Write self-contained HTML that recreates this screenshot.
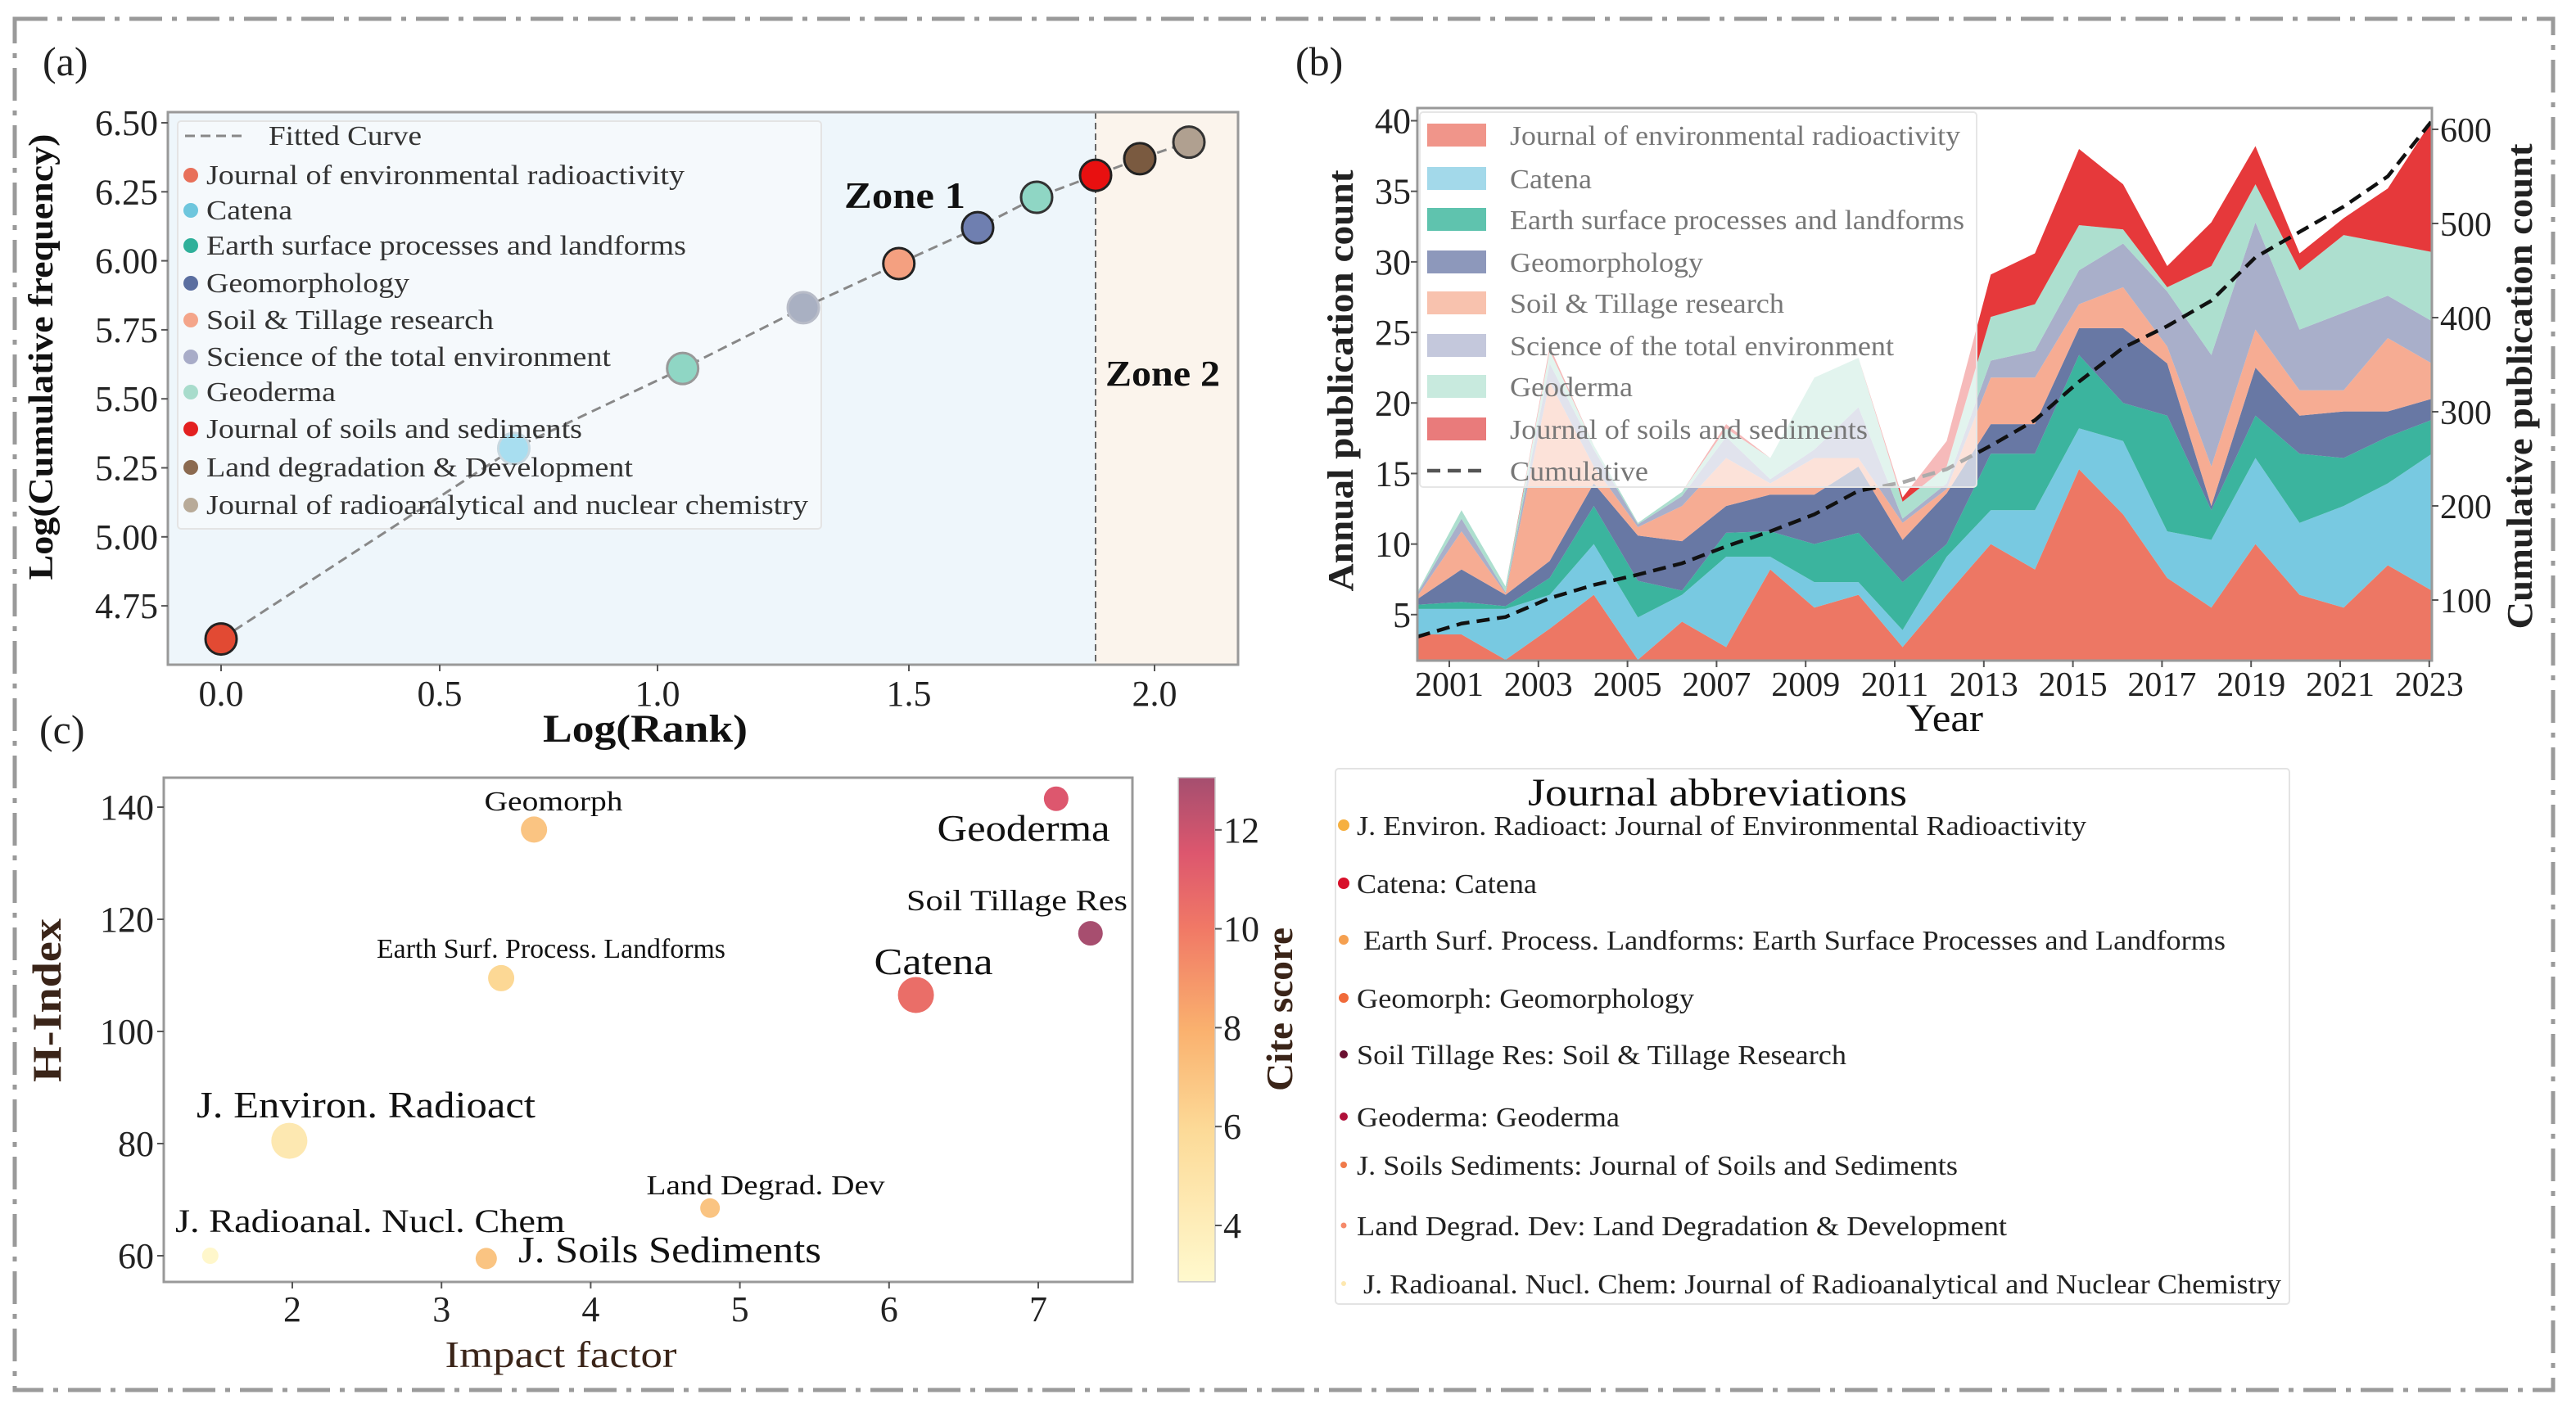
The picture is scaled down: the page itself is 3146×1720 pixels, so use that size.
<!DOCTYPE html>
<html><head><meta charset="utf-8"><style>
html,body{margin:0;padding:0;background:#fff;}
svg{display:block;font-family:"Liberation Serif","Times New Roman",Times,serif;}
svg text{font-family:"Liberation Serif","Times New Roman",Times,serif;}
</style></head><body>
<svg id="fig" width="3146" height="1720" viewBox="0 0 3146 1720" xmlns="http://www.w3.org/2000/svg" font-family="Liberation Serif, serif">
<rect x="18" y="23" width="3100" height="1675" fill="none" stroke="#9a9a9a" stroke-width="5" stroke-dasharray="40,12,6,12"/>
<g id="pa"></g>
<g id="pb"></g>
<g id="pc"></g>
<g id="pd"></g>
</svg>
<script>
// ---------- Panel (a) data ----------
const aNames=["Journal of environmental radioactivity","Catena","Earth surface processes and landforms","Geomorphology","Soil & Tillage research","Science of the total environment","Geoderma","Journal of soils and sediments","Land degradation & Development","Journal of radioanalytical and nuclear chemistry"];
const aLogRank=[0,0.67,1.05,1.29,1.48,1.64,1.76,1.88,1.97,2.07];
const aLogFreq=[4.63,5.32,5.61,5.83,5.99,6.12,6.23,6.31,6.37,6.43];
const aXTicks=[0,0.5,1.0,1.5,2.0];
const aYTicks=[4.75,5.00,5.25,5.50,5.75,6.00,6.25,6.50];
const aZoneSplit=1.88;
// ---------- Panel (b) data ----------
const bYears=[2000,2001,2002,2003,2004,2005,2006,2007,2008,2009,2010,2011,2012,2013,2014,2015,2016,2017,2018,2019,2020,2021,2022,2023];
const bNames=["Journal of environmental radioactivity","Catena","Earth surface processes and landforms","Geomorphology","Soil & Tillage research","Science of the total environment","Geoderma","Journal of soils and sediments"];
const sJER=[3.6,3.6,1.8,4.0,6.4,1.8,4.5,2.7,8.2,5.5,6.4,2.7,6.4,10,8.2,15.3,12.1,7.6,5.5,10,6.4,5.5,8.5,6.7];
const sCatena=[1.8,1.8,3.6,2.4,3.6,3.0,1.9,6.4,0.9,1.8,0.9,1.2,2.7,2.4,4.2,2.9,5.2,3.3,4.8,6.1,5.1,7.2,5.8,9.7];
const sESPL=[0.3,0.5,0.2,1.2,2.7,2.6,0.3,1.7,1.8,2.7,3.5,3.4,0.9,4.0,4.0,5.2,2.7,8.2,2.1,3.0,4.9,3.4,3.3,2.4];
const sGeomorph=[0.4,2.3,0.8,1.2,1.6,3.2,3.5,1.9,2.6,3.5,4.7,3.0,3.6,2.1,2.1,1.9,5.3,3.7,0.3,3.4,2.7,3.3,1.8,1.5];
const sSoilTill=[0.2,2.7,0.1,12.7,1.2,0.6,2.5,3.4,0.8,2.6,0.6,1.2,0.3,3.3,3.3,1.7,2.9,1.2,2.8,2.7,1.8,1.5,5.2,2.5];
const sStoten=[0.2,0.9,0.1,1.3,1.2,0.2,0.7,1.5,0.3,0.6,3.6,0.3,0.4,1.2,1.9,2.4,3.1,3.9,7.9,7.6,4.3,5.5,3.0,3.0];
const sGeoderma=[0.1,0.6,0.4,0.9,0.3,0.1,0.3,0.6,1.5,5.1,3.5,1.2,1.2,3.1,3.3,3.2,1.0,0.3,6.3,2.7,4.2,5.5,3.7,4.9];
const sJSS=[0,0,0,0.3,0,0,0,0.3,0,0,0,0.3,1.8,3.0,3.6,5.4,3.2,1.5,3.1,2.7,1.2,1.2,3.9,9.3];
const bCumulative=[61,75,82,102,116,127,139,157,173,191,216,225,239,264,291,332,368,391,418,464,491,518,550,609];
const bXTicks=[2001,2003,2005,2007,2009,2011,2013,2015,2017,2019,2021,2023];
const bYTicks=[5,10,15,20,25,30,35,40];
const bY2Ticks=[100,200,300,400,500,600];
// ---------- Panel (c) data ----------
const cLabels=["Geomorph","Geoderma","Soil Tillage Res","Earth Surf. Process. Landforms","Catena","J. Environ. Radioact","Land Degrad. Dev","J. Radioanal. Nucl. Chem","J. Soils Sediments"];
const cImpact=[3.62,7.12,7.35,3.40,6.18,1.98,4.80,1.45,3.30];
const cHIndex=[136,141.5,117.5,109.5,106.5,80.5,68.5,60,59.5];
const cCite=[7,11.5,13,6,10.5,4.5,7,3,7];
const cSize=[16,15,15,16,22,22,12,10,13];
const cXTicks=[2,3,4,5,6,7];
const cYTicks=[60,80,100,120,140];
const cCbTicks=[4,6,8,10,12];
// ---------- Abbreviation list ----------
const dLines=["J. Environ. Radioact: Journal of Environmental Radioactivity","Catena: Catena","Earth Surf. Process. Landforms: Earth Surface Processes and Landforms","Geomorph: Geomorphology","Soil Tillage Res: Soil & Tillage Research","Geoderma: Geoderma","J. Soils Sediments: Journal of Soils and Sediments","Land Degrad. Dev: Land Degradation & Development","J. Radioanal. Nucl. Chem: Journal of Radioanalytical and Nuclear Chemistry"];

const NS="http://www.w3.org/2000/svg";
function mk(tag,attrs,parent,txt){const e=document.createElementNS(NS,tag);for(const k in attrs)e.setAttribute(k,attrs[k]);if(txt!==undefined)e.textContent=txt;parent.appendChild(e);return e;}
function fit(e,w){e.setAttribute('textLength',w);e.setAttribute('lengthAdjust','spacingAndGlyphs');}

// ===== Panel (a) =====
(function(){
const g=document.getElementById('pa');
const L=205,R=1512,T=137,B=812;
const tickPx=[270,537,803,1110,1410];
function xs(v){for(let i=0;i<aXTicks.length-1;i++){if(v<=aXTicks[i+1]||i===aXTicks.length-2){const a=aXTicks[i],b=aXTicks[i+1];return tickPx[i]+(v-a)/(b-a)*(tickPx[i+1]-tickPx[i]);}}}
function ys(v){return 150+(6.5-v)/0.25*84.3;}
let e;
e=mk('text',{x:52,y:92,'font-size':50,fill:'#222'},g,'(a)');

e=mk('rect',{x:L,y:T,width:xs(aZoneSplit)-L,height:B-T,fill:'#eef6fb'},g);

e=mk('rect',{x:xs(aZoneSplit),y:T,width:R-xs(aZoneSplit),height:B-T,fill:'#fbf4ec'},g);

e=mk('line',{x1:xs(aZoneSplit),y1:T,x2:xs(aZoneSplit),y2:B,stroke:'#666','stroke-width':2,'stroke-dasharray':'8,5'},g);

e=mk('rect',{x:L,y:T,width:R-L,height:B-T,fill:'none',stroke:'#999','stroke-width':3},g);

aXTicks.forEach(v=>{mk('line',{x1:xs(v),y1:B,x2:xs(v),y2:B+8,stroke:'#555','stroke-width':2},g);
 e=mk('text',{x:xs(v),y:862,'font-size':44,'text-anchor':'middle',fill:'#222'},g,v.toFixed(1));
 });
aYTicks.forEach(v=>{mk('line',{x1:L-8,y1:ys(v),x2:L,y2:ys(v),stroke:'#555','stroke-width':2},g);
 e=mk('text',{x:L-12,y:ys(v)+15,'font-size':44,'text-anchor':'end',fill:'#222'},g,v.toFixed(2));
 });
e=mk('text',{x:788,y:906,'font-size':48,'font-weight':'bold','text-anchor':'middle',fill:'#111'},g,'Log(Rank)');
fit(e,250);

e=mk('text',{x:0,y:0,'font-size':42,'font-weight':'bold','text-anchor':'middle',fill:'#111',transform:'translate(64,436) rotate(-90)'},g,'Log(Cumulative frequency)');
fit(e,545);

const lg=mk('g',{},g);

mk('rect',{x:217,y:148,width:786,height:498,fill:'#ffffff','fill-opacity':0.4,stroke:'#e4e4e4','stroke-width':2,rx:4},lg);
const pts=aLogRank.map((v,i)=>xs(v)+','+ys(aLogFreq[i])).join(' ');
e=mk('polyline',{points:pts,fill:'none',stroke:'#888','stroke-width':3,'stroke-dasharray':'12,7'},g);

const pcol=['#e24a33','#a8def0','#8fd6c4','#a9b0c2','#f4a080','#6f7fb0','#8fd6c4','#e81010','#7a5a40','#b0a090'];
const pedge=['#222','#c8d8e0','#999','#b8bcc8','#222','#222','#333','#222','#222','#333'];
aLogRank.forEach((v,i)=>{e=mk('circle',{cx:xs(v),cy:ys(aLogFreq[i]),r:19,fill:pcol[i],stroke:pedge[i],'stroke-width':3},g);
 });
e=mk('text',{x:1105,y:254,'font-size':46,'font-weight':'bold','text-anchor':'middle',fill:'#111'},g,'Zone 1');
fit(e,148);

e=mk('text',{x:1420,y:471,'font-size':44,'font-weight':'bold','text-anchor':'middle',fill:'#111'},g,'Zone 2');
fit(e,140);

const lg2=mk('g',{},g);

mk('line',{x1:226,y1:166,x2:298,y2:166,stroke:'#888','stroke-width':3,'stroke-dasharray':'12,7'},lg2);
e=mk('text',{x:328,y:177,'font-size':34,fill:'#333'},lg2,'Fitted Curve');
fit(e,187);

const lcol=['#e8705a','#6ec6dd','#2fb09a','#5a6ea0','#f4a58a','#a8acc8','#a8dccc','#e32020','#8b6a50','#b8aa98'];
const ly=[214,257,300,346,391,436,479,524,571,617];
const lw=[584,105,586,248,351,494,158,459,521,735];
aNames.forEach((n,i)=>{mk('circle',{cx:233,cy:ly[i],r:9,fill:lcol[i]},lg2);
 e=mk('text',{x:252,y:ly[i]+11,'font-size':34,fill:'#333'},lg2,n);
 fit(e,lw[i]);
 });
})();

// ===== Panel (b) =====
(function(){
const g=document.getElementById('pb');
const L=1731,R=2970,T=132,B=807;
function xs(y){return L+(y-2000)/(2023-2000)*(R-L);}
function xt(y){return 1770+(y-2001)*54.4;}
const yMin=1.74,yMax=40.9;
function ys(v){return B-(v-yMin)/(yMax-yMin)*(B-T);}
function y2(v){return 733-(v-100)*1.15;}
let e;
e=mk('text',{x:1582,y:92,'font-size':50,fill:'#222'},g,'(b)');

const defs=mk('defs',{},g);const cp=mk('clipPath',{id:'clipb'},defs);mk('rect',{x:L,y:T,width:R-L,height:B-T},cp);
const series=[sJER,sCatena,sESPL,sGeomorph,sSoilTill,sStoten,sGeoderma,sJSS];
const cols=['#ec6b57','#6cc4de','#2aae96','#5b6c9c','#f5a58a','#a2a8c6','#a6dccb','#e4282a'];
const ids=['area-jer','area-catena','area-espl','area-geomorphology','area-soil-tillage','area-stoten','area-geoderma','area-jss'];
let base=bYears.map(()=>0);
const ag=mk('g',{'clip-path':'url(#clipb)'},g);
series.forEach((s,k)=>{const top=base.map((b,i)=>b+s[i]);
 let d='M'+bYears.map((y,i)=>xs(y)+','+ys(top[i])).join(' L');
 for(let i=bYears.length-1;i>=0;i--)d+=' L'+xs(bYears[i])+','+ys(base[i]);
 d+=' Z';
 e=mk('path',{d:d,fill:cols[k],'fill-opacity':0.92},ag);
 
 base=top;});
e=mk('polyline',{points:bYears.map((y,i)=>xs(y)+','+y2(bCumulative[i])).join(' '),fill:'none',stroke:'#111','stroke-width':4.5,'stroke-dasharray':'16,9'},ag);

e=mk('rect',{x:L,y:T,width:R-L,height:B-T,fill:'none',stroke:'#999','stroke-width':3},g);

bXTicks.forEach(v=>{mk('line',{x1:xt(v),y1:B,x2:xt(v),y2:B+8,stroke:'#555','stroke-width':2},g);
 e=mk('text',{x:xt(v),y:850,'font-size':42,'text-anchor':'middle',fill:'#222'},g,String(v));
 });
bYTicks.forEach(v=>{mk('line',{x1:L-8,y1:ys(v),x2:L,y2:ys(v),stroke:'#555','stroke-width':2},g);
 e=mk('text',{x:L-8,y:ys(v)+15,'font-size':44,'text-anchor':'end',fill:'#222'},g,String(v));
 });
bY2Ticks.forEach(v=>{mk('line',{x1:R,y1:y2(v),x2:R+8,y2:y2(v),stroke:'#555','stroke-width':2},g);
 e=mk('text',{x:R+10,y:y2(v)+15,'font-size':42,fill:'#222'},g,String(v));
 });
e=mk('text',{x:2375,y:893,'font-size':48,'text-anchor':'middle',fill:'#111'},g,'Year');
fit(e,94);

e=mk('text',{x:0,y:0,'font-size':44,'font-weight':'bold','text-anchor':'middle',fill:'#222',transform:'translate(1652,465) rotate(-90)'},g,'Annual publication count');
fit(e,515);

e=mk('text',{x:0,y:0,'font-size':44,'font-weight':'bold','text-anchor':'middle',fill:'#222',transform:'translate(3092,472) rotate(-90)'},g,'Cumulative publication count');
fit(e,593);

const lg=mk('g',{},g);

mk('rect',{x:1734,y:137,width:680,height:458,fill:'#fff','fill-opacity':0.65,stroke:'#e6e6e6','stroke-width':2,rx:4},lg);
const ly=[165,218,268,320,370,422,472,524];
const lw=[550,100,555,236,335,469,150,437];
const lc=['#f0958a','#a3d9ea','#5fc3ae','#8d98bb','#f8c2ae','#c4c8dc','#c8eade','#e97b7b'];
bNames.forEach((n,i)=>{mk('rect',{x:1743,y:ly[i]-14,width:72,height:28,fill:lc[i]},lg);
 e=mk('text',{x:1844,y:ly[i]+12,'font-size':34,fill:'#777'},lg,n);
 fit(e,lw[i]);
 });
mk('line',{x1:1743,y1:575,x2:1815,y2:575,stroke:'#555','stroke-width':4.5,'stroke-dasharray':'16,9'},lg);
e=mk('text',{x:1844,y:587,'font-size':34,fill:'#777'},lg,'Cumulative');
fit(e,169);

})();

// ===== Panel (c) =====
(function(){
const g=document.getElementById('pc');
const L=200,R=1383,T=950,B=1566;
function xs(v){return 357+(v-2)*182.2;}
function ys(v){return 986+(140-v)*6.85;}
const stops=[[0,[255,248,200]],[0.3,[252,214,140]],[0.5,[249,168,94]],[0.7,[239,106,85]],[0.85,[217,68,94]],[1,[155,59,95]]];
const cMin=2.86,cMax=13.06;
function cmap(v){let t=Math.max(0,Math.min(1,(v-cMin)/(cMax-cMin)));for(let i=0;i<stops.length-1;i++){if(t<=stops[i+1][0]){const f=(t-stops[i][0])/(stops[i+1][0]-stops[i][0]);const a=stops[i][1],b=stops[i+1][1];return 'rgb('+a.map((c,j)=>Math.round(c+(b[j]-c)*f)).join(',')+')';}}return 'rgb(155,59,95)';}
let e;
e=mk('text',{x:48,y:908,'font-size':50,fill:'#222'},g,'(c)');

e=mk('rect',{x:L,y:T,width:R-L,height:B-T,fill:'#fff',stroke:'#999','stroke-width':3},g);

cXTicks.forEach(v=>{mk('line',{x1:xs(v),y1:B,x2:xs(v),y2:B+8,stroke:'#555','stroke-width':2},g);
 e=mk('text',{x:xs(v),y:1614,'font-size':44,'text-anchor':'middle',fill:'#222'},g,String(v));
 });
cYTicks.forEach(v=>{mk('line',{x1:L-8,y1:ys(v),x2:L,y2:ys(v),stroke:'#555','stroke-width':2},g);
 e=mk('text',{x:L-12,y:ys(v)+15,'font-size':44,'text-anchor':'end',fill:'#222'},g,String(v));
 });
e=mk('text',{x:685,y:1670,'font-size':46,'text-anchor':'middle',fill:'#3a2418'},g,'Impact factor');
fit(e,283);

e=mk('text',{x:0,y:0,'font-size':50,'font-weight':'bold','text-anchor':'middle',fill:'#3a2418',transform:'translate(74,1222) rotate(-90)'},g,'H-Index');
fit(e,200);

const lpos=[[676,990,34,169],[1250,1027,46,211],[1242,1112,36,270],[673,1170,34,426],[1140,1190,46,145],[447,1365,46,414],[935,1459,34,291],[452,1505,40,476],[818,1542,46,370]];
cImpact.forEach((v,i)=>{e=mk('circle',{cx:xs(v),cy:ys(cHIndex[i]),r:cSize[i],fill:cmap(cCite[i]),'fill-opacity':0.9},g);
 });
cLabels.forEach((n,i)=>{e=mk('text',{x:lpos[i][0],y:lpos[i][1],'font-size':lpos[i][2],'text-anchor':'middle',fill:'#111'},g,n);
 fit(e,lpos[i][3]);
 });
const cbL=1439,cbR=1484;
function cy(v){return 1497-(v-4)*60.4;}
const defs=mk('defs',{},g);const lgd=mk('linearGradient',{id:'cbgrad',x1:0,y1:1,x2:0,y2:0},defs);
stops.forEach(s=>mk('stop',{offset:s[0],'stop-color':'rgb('+s[1].join(',')+')','stop-opacity':0.9},lgd));
e=mk('rect',{x:cbL,y:cy(cMax),width:cbR-cbL,height:cy(cMin)-cy(cMax),fill:'url(#cbgrad)',stroke:'#ccc','stroke-width':1.5},g);

cCbTicks.forEach(v=>{mk('line',{x1:cbR,y1:cy(v),x2:cbR+8,y2:cy(v),stroke:'#555','stroke-width':2},g);
 e=mk('text',{x:cbR+10,y:cy(v)+15,'font-size':44,fill:'#222'},g,String(v));
 });
e=mk('text',{x:0,y:0,'font-size':46,'font-weight':'bold','text-anchor':'middle',fill:'#3a2418',transform:'translate(1578,1233) rotate(-90)'},g,'Cite score');
fit(e,200);

})();

// ===== Abbreviation legend =====
(function(){
const g=document.getElementById('pd');
let e;
e=mk('rect',{x:1631,y:939,width:1165,height:654,fill:'#fff',stroke:'#e3e3e3','stroke-width':2,rx:4},g);

e=mk('text',{x:1866,y:984,'font-size':48,fill:'#111'},g,'Journal abbreviations');
fit(e,463);

const ys=[1008,1079,1148,1219,1288,1364,1423,1497,1568];
const xs=[1657,1657,1665,1657,1657,1657,1657,1657,1665];
const ws=[891,220,1053,412,598,321,734,794,1121];
const mc=['#f6b040','#d8102a','#f5a050','#f06a3a','#6a1030','#b0103a','#f07a4a','#f58a6a','#fde8b0'];
const mr=[7,7,6,6,5,5,4,3.5,3];
dLines.forEach((t,i)=>{mk('circle',{cx:1641,cy:ys[i],r:mr[i],fill:mc[i]},g);
 e=mk('text',{x:xs[i],y:ys[i]+12,'font-size':34,fill:'#222'},g,t);
 fit(e,ws[i]);
 });
})();
</script>
</body></html>
